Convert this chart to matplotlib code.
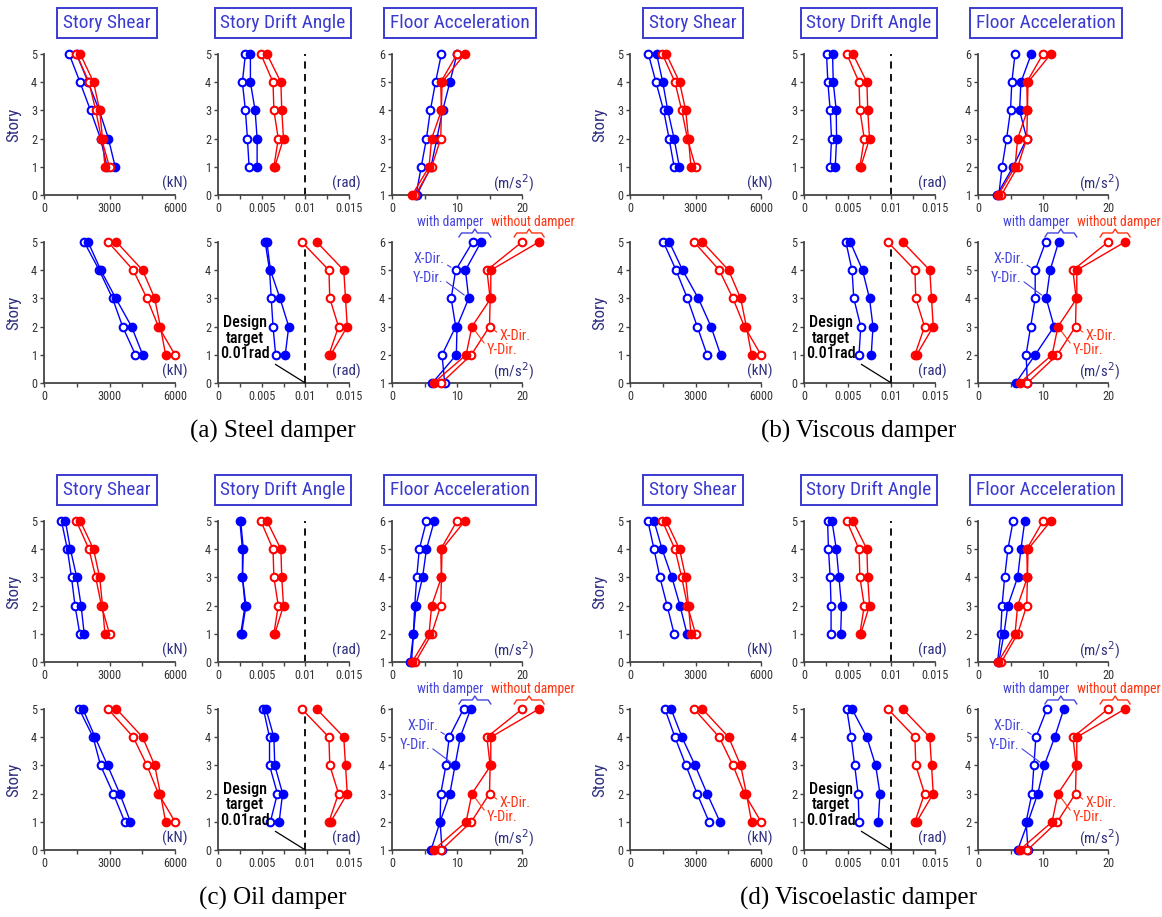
import matplotlib
matplotlib.use("Agg")
import matplotlib.pyplot as plt
from matplotlib import font_manager
from matplotlib.font_manager import FontProperties
from matplotlib.textpath import text_to_path
from matplotlib.ticker import MultipleLocator, FixedLocator

# fonts: a narrow sans like the original if one is installed, serif for the captions
ttf = font_manager.fontManager.ttflist
names = {f.name for f in ttf}
NARROW, STRETCH = "Liberation Sans", "normal"
for p in ["Liberation Sans Narrow", "Roboto Condensed", "Open Sans Condensed",
          "Noto Sans Condensed", "DejaVu Sans Condensed"]:
    if p in names:
        NARROW = p
        break
else:
    for fam in ["Noto Sans", "DejaVu Sans", "Open Sans", "Roboto"]:
        if any(f.name == fam and f.stretch in ("condensed", "semi-condensed")
               for f in ttf):
            NARROW, STRETCH = fam, "condensed"
            break
SERIF = "Liberation Serif"
plt.rcParams["font.family"] = [NARROW, "DejaVu Sans"]
plt.rcParams["font.stretch"] = STRETCH

# scale all sans text so that "Floor Acceleration" is as wide as in the original
w, _, _ = text_to_path.get_text_width_height_descent(
    "Floor Acceleration", FontProperties(family=NARROW, stretch=STRETCH, size=15), False)
K = min(1.0, 140 / (w * 100 / 72))


def fs(size):
    return size * K


stories = [1, 2, 3, 4, 5]
floors = [1, 2, 3, 4, 5, 6]
design_target = 0.01

# suffix x = X-dir (open marker), y = Y-dir (filled marker)
# 1 = top row (small earthquake), 2 = bottom row (large earthquake)

# without damper (same in all four cases)
nod_shear_x1 = [3000, 2630, 2370, 2060, 1480]
nod_shear_y1 = [2790, 2680, 2550, 2270, 1660]
nod_shear_x2 = [6000, 5240, 4715, 4090, 2935]
nod_shear_y2 = [5570, 5330, 5070, 4515, 3320]
nod_drift_x1 = [0.0064, 0.0069, 0.0064, 0.0063, 0.0049]
nod_drift_y1 = [0.0065, 0.0075, 0.0073, 0.0072, 0.0056]
nod_drift_x2 = [0.0127, 0.0138, 0.0128, 0.0127, 0.0096]
nod_drift_y2 = [0.0129, 0.0148, 0.0146, 0.0144, 0.0113]
nod_acc_x1 = [3.6, 6.1, 7.5, 7.6, 7.5, 10.0]
nod_acc_y1 = [3.1, 5.7, 6.1, 7.6, 7.7, 11.2]
nod_acc_x2 = [7.6, 12.2, 15.0, 15.1, 14.6, 20.0]
nod_acc_y2 = [6.4, 11.4, 12.3, 15.2, 15.2, 22.6]

# (a) steel damper
steel_shear_x1 = [2890, 2590, 2130, 1650, 1150]
steel_shear_y1 = [3260, 2950, 2530, 2020, 1490]
steel_shear_x2 = [4190, 3600, 3140, 2530, 1840]
steel_shear_y2 = [4520, 4010, 3290, 2600, 2020]
steel_drift_x1 = [0.00356, 0.00337, 0.00314, 0.00279, 0.00314]
steel_drift_y1 = [0.00448, 0.00448, 0.00425, 0.00371, 0.00371]
steel_drift_x2 = [0.0066, 0.0063, 0.0061, 0.0059, 0.0054]
steel_drift_y2 = [0.0077, 0.0081, 0.0071, 0.0060, 0.0056]
steel_acc_x1 = [3.7, 4.5, 5.3, 5.9, 6.7, 7.6]
steel_acc_y1 = [3.8, 6.0, 6.9, 7.8, 8.9, 10.0]
steel_acc_x2 = [8.1, 7.7, 9.8, 9.1, 9.8, 12.4]
steel_acc_y2 = [6.2, 9.9, 10.0, 11.8, 11.3, 13.7]

# (b) viscous damper
visc_shear_x1 = [2020, 1790, 1540, 1190, 840]
visc_shear_y1 = [2260, 2020, 1730, 1500, 1220]
visc_shear_x2 = [3530, 3080, 2630, 2110, 1530]
visc_shear_y2 = [4150, 3710, 3130, 2410, 1800]
visc_drift_x1 = [0.0030, 0.00315, 0.0030, 0.00273, 0.00258]
visc_drift_y1 = [0.00358, 0.00373, 0.00369, 0.00335, 0.00327]
visc_drift_x2 = [0.0063, 0.0065, 0.0057, 0.0055, 0.0048]
visc_drift_y2 = [0.0077, 0.0079, 0.0075, 0.0067, 0.0053]
visc_acc_x1 = [3.2, 3.7, 4.4, 5.0, 5.2, 5.7]
visc_acc_y1 = [2.9, 5.4, 7.5, 6.4, 6.6, 8.2]
visc_acc_x2 = [7.6, 7.4, 8.1, 8.8, 8.8, 10.4]
visc_acc_y2 = [5.8, 8.8, 11.7, 10.5, 11.1, 12.4]

# (c) oil damper
oil_shear_x1 = [1640, 1420, 1260, 1070, 800]
oil_shear_y1 = [1840, 1700, 1500, 1210, 980]
oil_shear_x2 = [3700, 3170, 2590, 2250, 1610]
oil_shear_y2 = [3960, 3470, 2910, 2340, 1780]
oil_drift_x1 = [0.0026, 0.0031, 0.0028, 0.0028, 0.0025]
oil_drift_y1 = [0.0027, 0.0032, 0.0028, 0.0029, 0.0026]
oil_drift_x2 = [0.0060, 0.0068, 0.0059, 0.0059, 0.0052]
oil_drift_y2 = [0.0070, 0.0074, 0.0065, 0.0064, 0.0055]
oil_acc_x1 = [2.8, 3.3, 3.5, 3.8, 4.2, 5.3]
oil_acc_y1 = [3.0, 3.3, 3.7, 4.7, 5.3, 6.5]
oil_acc_x2 = [7.7, 7.4, 7.5, 8.3, 8.8, 11.0]
oil_acc_y2 = [6.0, 7.4, 8.9, 9.7, 10.5, 12.1]

# (d) viscoelastic damper
ve_shear_x1 = [2020, 1700, 1370, 1100, 820]
ve_shear_y1 = [2610, 2290, 1920, 1470, 1100]
ve_shear_x2 = [3620, 3070, 2560, 2060, 1600]
ve_shear_y2 = [4120, 3530, 2980, 2380, 1880]
ve_drift_x1 = [0.0031, 0.0031, 0.0030, 0.0028, 0.0027]
ve_drift_y1 = [0.0042, 0.0043, 0.0040, 0.0037, 0.0032]
ve_drift_x2 = [0.0063, 0.0062, 0.0058, 0.0054, 0.0049]
ve_drift_y2 = [0.0085, 0.0087, 0.0082, 0.0072, 0.0055]
ve_acc_x1 = [3.0, 3.5, 3.7, 4.1, 4.6, 5.4]
ve_acc_y1 = [3.2, 4.0, 4.6, 6.1, 6.6, 7.2]
ve_acc_x2 = [7.7, 7.4, 8.3, 8.6, 8.9, 10.6]
ve_acc_y2 = [6.1, 7.7, 9.2, 10.2, 11.8, 13.2]

BLUE = "#0000ff"
RED = "#ff0000"
TITLE_C = "#3a3ad0"
UNIT_C = "#2e2e80"
TICK_C = "#333333"
LBL_B = "#4444dd"
LBL_R = "#ff3311"

W, H = 1162, 917
fig = plt.figure(figsize=(W / 100, H / 100), dpi=100)


def px_axes(x0, x1, ytop, ybot):
    return fig.add_axes([x0 / W, 1 - ybot / H, (x1 - x0) / W, (ybot - ytop) / H])


def series(ax, vals, levels, color, filled):
    ax.plot(vals, levels, "-o", color=color, lw=1.0, ms=5.5,
            mfc=color if filled else "white", mec=color, mew=1.5,
            clip_on=False, zorder=3)


def style(ax, xmax, major, minor, labels, ymin, ymax, unit):
    ax.set_xlim(0, xmax)
    ax.set_ylim(ymin, ymax)
    for s in ["top", "right"]:
        ax.spines[s].set_visible(False)
    for s in ["left", "bottom"]:
        ax.spines[s].set_linewidth(1.3)
        ax.spines[s].set_color("#444444")
    ax.xaxis.set_major_locator(FixedLocator(major))
    ax.set_xticklabels(labels)
    ax.xaxis.set_minor_locator(MultipleLocator(minor))
    ax.yaxis.set_major_locator(MultipleLocator(1))
    ax.tick_params(which="both", direction="out", length=3, width=1,
                   color="#444444", labelsize=fs(9.5), labelcolor=TICK_C, pad=2)
    ax.annotate(unit, xy=(1, 0), xycoords="axes fraction", xytext=(12, 12),
                textcoords="offset pixels", ha="right", va="center",
                fontsize=fs(11.5), color=UNIT_C)


def brace(ax, x0, x1, color):
    xc = (x0 + x1) / 2
    ax.plot([x0, x0 + 0.4, xc - 0.4, xc, xc + 0.4, x1 - 0.4, x1],
            [6.18, 6.32, 6.32, 6.46, 6.32, 6.32, 6.18],
            color=color, lw=1, clip_on=False)


def draw_panel(dx, dy, caption, shear, drift, acc):
    cols = [(44, 175), (218, 349), (392, 522)]
    centers = [107, 283, 460]
    titles = ["Story Shear", "Story Drift Angle", "Floor Acceleration"]
    for c, t in zip(centers, titles):
        fig.text((c + dx) / W, 1 - (23 + dy) / H, t,
                 ha="center", va="center", fontsize=fs(15), color=TITLE_C,
                 bbox=dict(boxstyle="square,pad=0.3", fc="white",
                           ec=TITLE_C, lw=1.4))
    for r in range(2):
        ytop = 54 + dy + r * 188
        ybot = ytop + 141
        # story shear
        ax = px_axes(cols[0][0] + dx, cols[0][1] + dx, ytop, ybot)
        style(ax, 6000, [0, 3000, 6000], 1500, ["0", "3000", "6000"], 0, 5, "(kN)")
        ax.set_ylabel("Story", fontsize=fs(13), color=UNIT_C)
        ax.yaxis.set_label_coords(-0.17, 0.5)
        series(ax, shear[r][0], stories, BLUE, False)
        series(ax, shear[r][1], stories, BLUE, True)
        series(ax, shear[r][2], stories, RED, False)
        series(ax, shear[r][3], stories, RED, True)
        # story drift angle
        ax = px_axes(cols[1][0] + dx, cols[1][1] + dx, ytop, ybot)
        style(ax, 0.015, [0, 0.005, 0.01, 0.015], 0.0025,
              ["0", "0.005", "0.01", "0.015"], 0, 5, "(rad)")
        ax.axvline(design_target, color="black", ls=(0, (4, 3)), lw=1.3)
        series(ax, drift[r][0], stories, BLUE, False)
        series(ax, drift[r][1], stories, BLUE, True)
        series(ax, drift[r][2], stories, RED, False)
        series(ax, drift[r][3], stories, RED, True)
        if r == 1:
            ax.annotate("Design\ntarget\n0.01rad", xy=(design_target, 0),
                        xytext=(-60, 45), textcoords="offset pixels",
                        ha="center", va="center", fontsize=fs(12.5),
                        linespacing=1.05, color="black", weight="medium",
                        arrowprops=dict(arrowstyle="-", color="black", lw=0.9,
                                        relpos=(1.0, 0.0), shrinkA=2, shrinkB=0))
        # floor acceleration
        ax = px_axes(cols[2][0] + dx, cols[2][1] + dx, ytop, ybot)
        style(ax, 20, [0, 10, 20], 5, ["0", "10", "20"], 1, 6, "(m/s$^2$)")
        series(ax, acc[r][0], floors, BLUE, False)
        series(ax, acc[r][1], floors, BLUE, True)
        series(ax, acc[r][2], floors, RED, False)
        series(ax, acc[r][3], floors, RED, True)
        if r == 1:
            ax.text(9.0, 6.72, "with damper", ha="center", va="center",
                    fontsize=fs(10.5), color=LBL_B)
            ax.text(21.6, 6.72, "without damper", ha="center", va="center",
                    fontsize=fs(10.5), color=LBL_R)
            brace(ax, 10.3, 15.2, LBL_B)
            brace(ax, 18.8, 23.4, LBL_R)
            lbl = dict(textcoords="offset pixels", va="center", fontsize=fs(11))
            ax.annotate("X-Dir.", xy=(acc[r][0][4], 5), xytext=(-11, 11),
                        ha="right", color=LBL_B,
                        arrowprops=dict(arrowstyle="-", color=LBL_B, lw=0.8,
                                        relpos=(1.0, 0.2), shrinkA=0, shrinkB=4), **lbl)
            ax.annotate("Y-Dir.", xy=(acc[r][1][3], 4), xytext=(-25, 20),
                        ha="right", color=LBL_B,
                        arrowprops=dict(arrowstyle="-", color=LBL_B, lw=0.8,
                                        relpos=(1.0, 0.4), shrinkA=0, shrinkB=4), **lbl)
            ax.annotate("X-Dir.", xy=(acc[r][2][2], 3), xytext=(10, -9),
                        ha="left", color=LBL_R,
                        arrowprops=dict(arrowstyle="-", color=LBL_R, lw=0.8,
                                        relpos=(0.0, 0.6), shrinkA=0, shrinkB=4), **lbl)
            ax.annotate("Y-Dir.", xy=(acc[r][3][2], 3), xytext=(15, -23),
                        ha="left", color=LBL_R,
                        arrowprops=dict(arrowstyle="-", color=LBL_R, lw=0.8,
                                        relpos=(0.0, 0.7), shrinkA=0, shrinkB=4), **lbl)
    fig.text((273 + dx) / W, 1 - (431 + dy) / H, caption, ha="center",
             va="center", fontsize=18, family=SERIF, stretch="normal")


cases = [
    (0, 0, "(a) Steel damper",
     [steel_shear_x1, steel_shear_y1], [steel_shear_x2, steel_shear_y2],
     [steel_drift_x1, steel_drift_y1], [steel_drift_x2, steel_drift_y2],
     [steel_acc_x1, steel_acc_y1], [steel_acc_x2, steel_acc_y2]),
    (586, 0, "(b) Viscous damper",
     [visc_shear_x1, visc_shear_y1], [visc_shear_x2, visc_shear_y2],
     [visc_drift_x1, visc_drift_y1], [visc_drift_x2, visc_drift_y2],
     [visc_acc_x1, visc_acc_y1], [visc_acc_x2, visc_acc_y2]),
    (0, 467, "(c) Oil damper",
     [oil_shear_x1, oil_shear_y1], [oil_shear_x2, oil_shear_y2],
     [oil_drift_x1, oil_drift_y1], [oil_drift_x2, oil_drift_y2],
     [oil_acc_x1, oil_acc_y1], [oil_acc_x2, oil_acc_y2]),
    (586, 467, "(d) Viscoelastic damper",
     [ve_shear_x1, ve_shear_y1], [ve_shear_x2, ve_shear_y2],
     [ve_drift_x1, ve_drift_y1], [ve_drift_x2, ve_drift_y2],
     [ve_acc_x1, ve_acc_y1], [ve_acc_x2, ve_acc_y2]),
]

for dx, dy, cap, sh1, sh2, dr1, dr2, ac1, ac2 in cases:
    shear = [sh1 + [nod_shear_x1, nod_shear_y1], sh2 + [nod_shear_x2, nod_shear_y2]]
    drift = [dr1 + [nod_drift_x1, nod_drift_y1], dr2 + [nod_drift_x2, nod_drift_y2]]
    acc = [ac1 + [nod_acc_x1, nod_acc_y1], ac2 + [nod_acc_x2, nod_acc_y2]]
    draw_panel(dx, dy, cap, shear, drift, acc)

fig.savefig("out.png", dpi=100)
